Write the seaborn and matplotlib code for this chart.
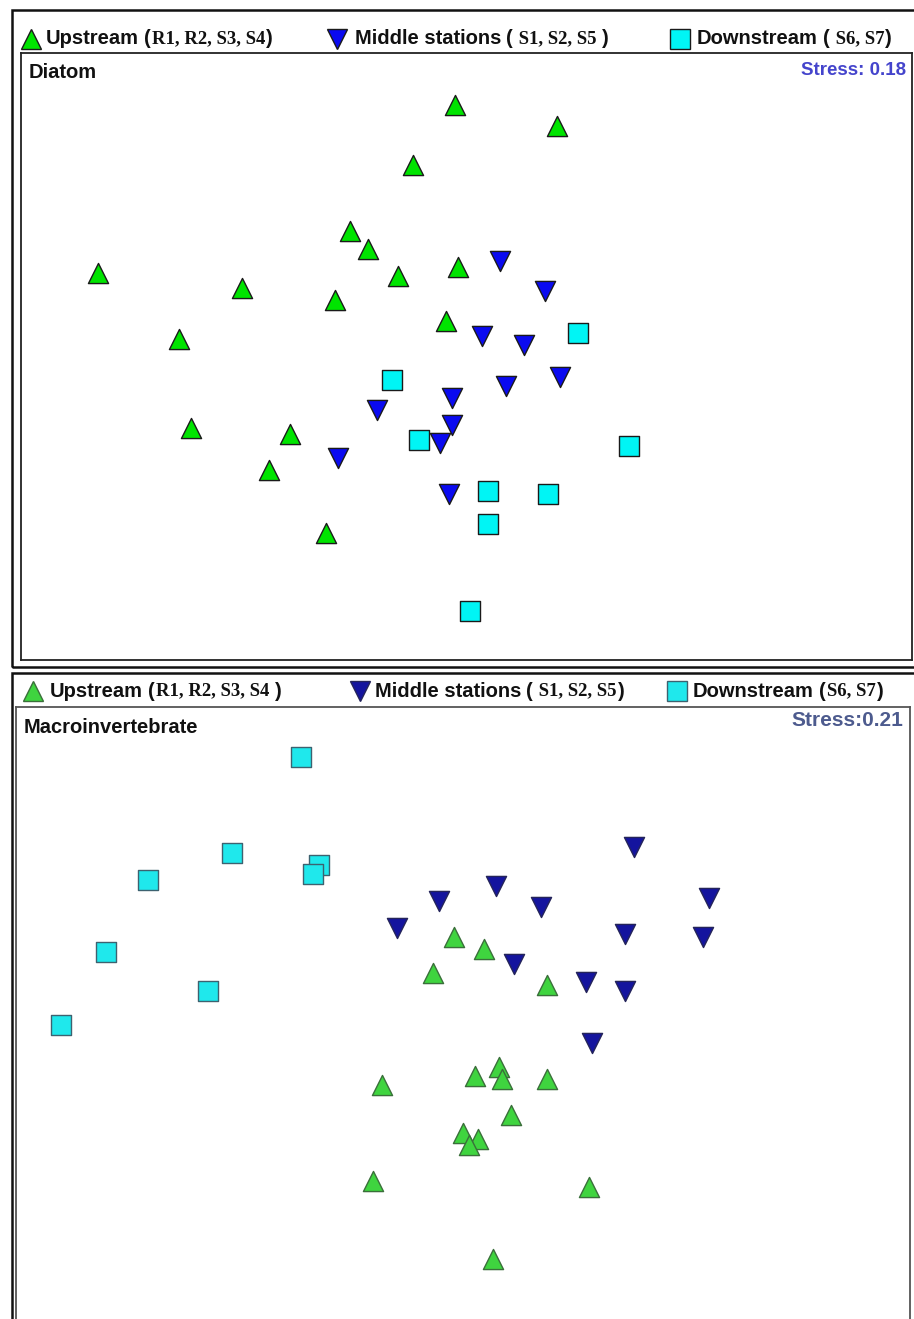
import matplotlib
matplotlib.use("Agg")
import matplotlib.pyplot as plt
import seaborn as sns
import pandas as pd
from matplotlib.patches import Rectangle
from matplotlib.lines import Line2D

# ---- NMDS scores ---------------------------------------------------------
groups = ["Upstream", "Middle stations", "Downstream"]
top_sites = ["R1, R2, S3, S4", " S1, S2, S5 ", " S6, S7"]
bottom_sites = ["R1, R2, S3, S4 ", " S1, S2, S5", "S6, S7"]

# Diatom assemblages
diatom_up_x = [-0.04, 0.30, -0.18, -0.39, -0.33, -1.23, -0.23, -0.03,
               -0.75, -0.44, -0.07, -0.96, -0.92, -0.59, -0.66, -0.47]
diatom_up_y = [0.84, 0.77, 0.64, 0.42, 0.36, 0.28, 0.27, 0.30,
               0.23, 0.19, 0.12, 0.06, -0.24, -0.26, -0.38, -0.59]
diatom_mid_x = [0.11, 0.26, 0.05, 0.19, 0.31, 0.13, -0.05, -0.30,
                -0.05, -0.09, -0.43, -0.06]
diatom_mid_y = [0.32, 0.22, 0.07, 0.04, -0.07, -0.10, -0.14, -0.18,
                -0.23, -0.29, -0.34, -0.46]
diatom_down_x = [0.37, -0.25, -0.16, 0.54, 0.07, 0.27, 0.07, 0.01]
diatom_down_y = [0.08, -0.08, -0.28, -0.30, -0.45, -0.46, -0.56, -0.85]
diatom_stress = 0.18

# Macroinvertebrate assemblages
macro_up_x = [-0.03, 0.07, -0.10, 0.28, 0.12, 0.04, 0.13, 0.28,
              -0.27, 0.16, 0.00, 0.05, 0.02, -0.30, 0.42, 0.10]
macro_up_y = [0.27, 0.23, 0.15, 0.11, -0.16, -0.19, -0.20, -0.20,
              -0.22, -0.32, -0.38, -0.40, -0.42, -0.54, -0.56, -0.80]
macro_mid_x = [0.57, 0.11, -0.08, 0.82, 0.26, -0.22, 0.54, 0.80,
               0.17, 0.41, 0.54, 0.43]
macro_mid_y = [0.57, 0.44, 0.39, 0.40, 0.37, 0.30, 0.28, 0.27,
               0.18, 0.12, 0.09, -0.08]
macro_down_x = [-0.54, -0.77, -0.48, -0.50, -1.05, -1.19, -0.85, -1.34]
macro_down_y = [0.87, 0.55, 0.51, 0.48, 0.46, 0.22, 0.09, -0.02]
macro_stress = 0.21


def make_frame(xs, ys):
    rows = []
    for g, x, y in zip(groups, xs, ys):
        rows += [(g, a, b) for a, b in zip(x, y)]
    return pd.DataFrame(rows, columns=["group", "NMDS1", "NMDS2"])


diatom = make_frame([diatom_up_x, diatom_mid_x, diatom_down_x],
                    [diatom_up_y, diatom_mid_y, diatom_down_y])
macro = make_frame([macro_up_x, macro_mid_x, macro_down_x],
                   [macro_up_y, macro_mid_y, macro_down_y])

markers = {"Upstream": "^", "Middle stations": "v", "Downstream": "s"}

top_style = {
    "Upstream": dict(face="#00e400", edge="#1a1a1a"),
    "Middle stations": dict(face="#0a0af0", edge="#1a1a1a"),
    "Downstream": dict(face="#00f5f5", edge="#1a1a1a"),
}
bottom_style = {
    "Upstream": dict(face="#3fd43f", edge="#3a6f3a"),
    "Middle stations": dict(face="#14149e", edge="#24245a"),
    "Downstream": dict(face="#1fe8ec", edge="#3d6270"),
}

# ---- figure ---------------------------------------------------------------
sns.set_theme(style="white")
W, H, DPI = 914, 1319, 100
fig = plt.figure(figsize=(W / DPI, H / DPI), dpi=DPI)
fig.patch.set_facecolor("white")

SANS = ["Liberation Sans", "DejaVu Sans"]
SERIF = ["Liberation Serif", "DejaVu Serif"]


def fbox(l, t, r, b):
    return [l / W, 1 - b / H, (r - l) / W, (b - t) / H]


def panel(rect, df, styles, xlim, ylim, title, stress_text, stress_color,
          stress_size, stress_y, spine_color, size):
    ax = fig.add_axes(fbox(*rect))
    for g in groups:
        sub = df[df["group"] == g]
        sns.scatterplot(data=sub, x="NMDS1", y="NMDS2", marker=markers[g],
                        color=styles[g]["face"], edgecolor=styles[g]["edge"],
                        linewidth=1.0, s=size, legend=False, ax=ax, zorder=3)
    ax.set_xlim(*xlim)
    ax.set_ylim(*ylim)
    ax.set_xticks([])
    ax.set_yticks([])
    ax.set_xlabel("")
    ax.set_ylabel("")
    for sp in ax.spines.values():
        sp.set_visible(True)
        sp.set_color(spine_color)
        sp.set_linewidth(1.3)
    ax.text(0.009, 0.983, title, transform=ax.transAxes, ha="left", va="top",
            fontsize=14.5, fontweight="bold", family=SANS, color="#111111")
    ax.text(0.993, stress_y, stress_text, transform=ax.transAxes, ha="right",
            va="top", fontsize=stress_size, fontweight="bold", family=SANS,
            color=stress_color)
    return ax


def legend_row(y_px, entries, styles, sites_list, msize):
    renderer = fig.canvas.get_renderer()
    for (mx, tx), g, sites in zip(entries, groups, sites_list):
        st = styles[g]
        fig.add_artist(Line2D([mx / W], [1 - y_px / H], marker=markers[g],
                              markersize=msize, markerfacecolor=st["face"],
                              markeredgecolor=st["edge"], markeredgewidth=1.0,
                              linestyle="none", transform=fig.transFigure))
        x = tx
        pieces = [
            (g, dict(family=SANS, fontweight="bold", fontsize=14.5), 5),
            ("(", dict(family=SANS, fontweight="bold", fontsize=14.5), 1),
            (sites, dict(family=SERIF, fontweight="bold", fontsize=13.5), 1),
            (")", dict(family=SANS, fontweight="bold", fontsize=14.5), 0),
        ]
        for s, kw, gap in pieces:
            t = fig.text(x / W, 1 - y_px / H, s, ha="left", va="center",
                         color="#111111", **kw)
            x += t.get_window_extent(renderer=renderer).width + gap


# outer frames
for l, t, r, b in [(12, 10, 930, 667), (12, 673, 930, 1340)]:
    fig.add_artist(Rectangle((l / W, 1 - b / H), (r - l) / W, (b - t) / H,
                             transform=fig.transFigure, fill=False,
                             edgecolor="#111111", linewidth=1.8))

panel((21, 53, 912, 660), diatom, top_style, (-1.485, 1.485),
      (-1.012, 1.012), "Diatom", f"Stress: {diatom_stress:.2f}",
      "#4444cc", 13.5, 0.985, "#222222", 210)
panel((16, 707, 910, 1330), macro, bottom_style, (-1.49, 1.49),
      (-1.038, 1.038), "Macroinvertebrate", f"Stress:{macro_stress:.2f}",
      "#4d5b8e", 15, 0.993, "#555555", 210)

legend_row(39, [(31, 46), (337, 355), (680, 697)], top_style, top_sites, 14)
legend_row(691, [(33, 50), (360, 375), (677, 693)], bottom_style,
           bottom_sites, 14)

fig.savefig("out.png", dpi=DPI)
